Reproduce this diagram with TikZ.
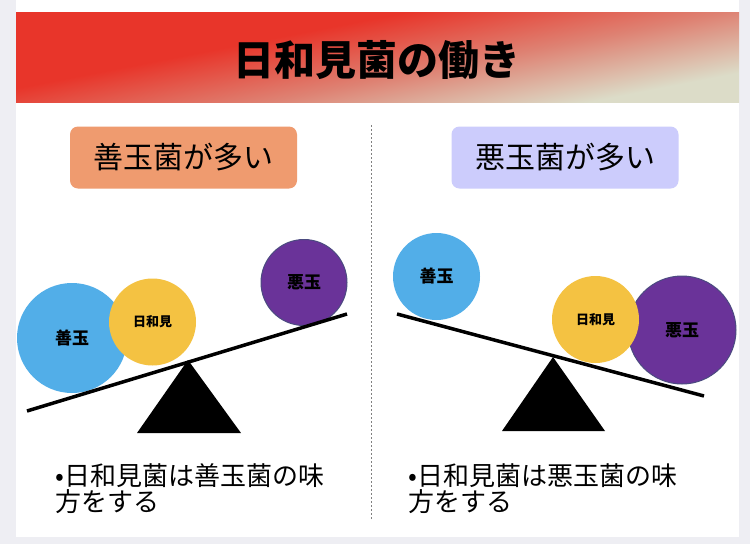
\documentclass[tikz,border=0pt]{standalone}
\usepackage{fontspec}
\setmainfont{Noto Sans CJK JP}
\usepackage{tikz}
\definecolor{page_gray}{RGB}{238,238,243}
\definecolor{bar_red}{RGB}{232,53,42}
\definecolor{bar_pink}{RGB}{222,130,115}
\definecolor{bar_beige}{RGB}{220,220,200}
\definecolor{zen_blue}{RGB}{82,174,232}
\definecolor{hiyo_yellow}{RGB}{244,194,66}
\definecolor{aku_purple}{RGB}{106,51,153}
\definecolor{aku_edge}{RGB}{75,75,128}
\definecolor{tag_orange}{RGB}{239,155,111}
\definecolor{tag_lilac}{RGB}{204,204,252}
\pgfdeclareverticalshading{barfade}{100bp}{color(0bp)=(bar_beige); color(28bp)=(bar_beige);
  color(44bp)=(bar_pink); color(60bp)=(bar_red); color(100bp)=(bar_red)}

\begin{document}
\begin{tikzpicture}[x=1pt, y=-1pt,
    ball/.style={circle, inner sep=0pt, font=\bfseries\fontsize{17}{17}\selectfont},
    tag/.style={rounded corners=8pt, minimum width=227pt, minimum height=62pt,
      font=\fontsize{30}{30}\selectfont},
    note/.style={anchor=north west, align=left, inner sep=0pt,
      font=\fontsize{26}{26}\selectfont},
    beam/.style={line width=3.5pt}]
  \useasboundingbox (0,0) rectangle (750,544);
  % Page and card
  \fill[page_gray] (0,0) rectangle (750,544);
  \fill[white] (16,0) rectangle (739,537);
  % Title bar
  \fill[shading=barfade, shading angle=11] (16,12) rectangle (739,102);
  \node[font=\bfseries\fontsize{41}{41}\selectfont] (title) at (377,60) {日和見菌の働き};
  % Divider
  \coordinate (divtop) at (371,125);
  \coordinate (divbot) at (371,519);
  \draw[gray, line width=0.6pt, dash pattern=on 2pt off 2pt] (divtop) -- (divbot);
  % Tags
  \node[tag, fill=tag_orange] (tagzen) at (183.5,157.5) {善玉菌が多い};
  \node[tag, fill=tag_lilac] (tagaku) at (565,157.5) {悪玉菌が多い};
  % Left seesaw
  \coordinate (beamLa) at (27,411);
  \coordinate (beamLb) at (347,314);
  \fill (188,360) -- (137,433) -- (241,433) -- cycle;
  \node[ball, fill=zen_blue, minimum size=110pt] (zenL) at (72,338) {善玉};
  \node[ball, fill=hiyo_yellow, minimum size=87pt,
    font=\bfseries\fontsize{13}{13}\selectfont] (hiyoL) at (152.5,322) {日和見};
  \node[ball, fill=aku_purple, draw=aku_edge, line width=1pt,
    minimum size=86pt] (akuL) at (304,282.5) {悪玉};
  \draw[beam] (beamLa) -- (beamLb);
  % Right seesaw
  \coordinate (beamRa) at (397,314);
  \coordinate (beamRb) at (704,396);
  \fill (553,357) -- (502,431) -- (605,431) -- cycle;
  \node[ball, fill=zen_blue, minimum size=87pt] (zenR) at (436.5,276.5) {善玉};
  \node[ball, fill=aku_purple, draw=aku_edge, line width=1pt,
    minimum size=108pt] (akuR) at (682,330) {悪玉};
  \node[ball, fill=hiyo_yellow, minimum size=87pt,
    font=\bfseries\fontsize{13}{13}\selectfont] (hiyoR) at (595.5,319.5) {日和見};
  \draw[beam] (beamRa) -- (beamRb);
  % Notes
  \node[note] (noteL) at (55,463) {•日和見菌は善玉菌の味\\方をする};
  \node[note] (noteR) at (408,463) {•日和見菌は悪玉菌の味\\方をする};
\end{tikzpicture}
\end{document}
